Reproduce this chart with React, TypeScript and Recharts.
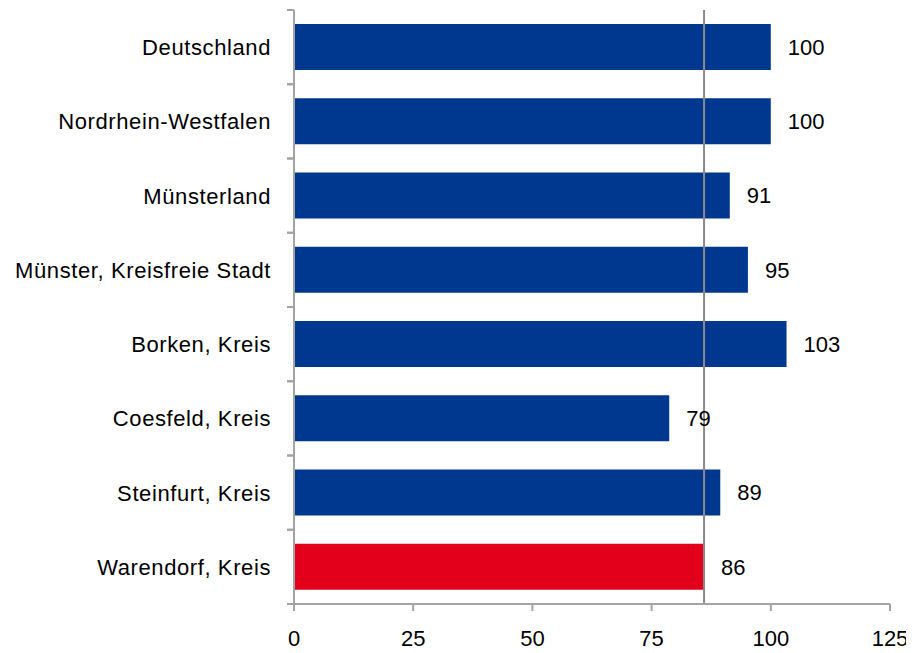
import React from 'react';
import { BarChart, Bar, XAxis, YAxis, Cell, LabelList, ReferenceLine } from 'recharts';

const regions = [
    'Deutschland',
    'Nordrhein-Westfalen',
    'Münsterland',
    'Münster, Kreisfreie Stadt',
    'Borken, Kreis',
    'Coesfeld, Kreis',
    'Steinfurt, Kreis',
    'Warendorf, Kreis',
];
const values = [100, 100, 91.4, 95.2, 103.3, 78.7, 89.4, 86];
const xTicks = [0, 25, 50, 75, 100, 125];
const highlight = 'Warendorf, Kreis';
const referenceValue = 86;

const data = regions.map((name, i) => ({ name, value: values[i] }));

const font = '"Liberation Sans", Arial, sans-serif';
const axisColor = '#a3a3a3';
const bandHalf = 594 / regions.length / 2;

const CategoryTick = (props: any) => {
    const { x, y, payload } = props;
    return (
        <g>
            <line x1={x - 7} x2={x} y1={y - bandHalf} y2={y - bandHalf} stroke={axisColor} strokeWidth={2} />
            <line x1={x - 7} x2={x} y1={y + bandHalf} y2={y + bandHalf} stroke={axisColor} strokeWidth={2} />
            <text x={x - 23} y={y} dy="0.36em" textAnchor="end" fill="#000" fontSize={22} fontFamily={font} letterSpacing={0.6}>
                {payload.value}
            </text>
        </g>
    );
};

const App = () => {
    return (
        <div style={{ width: 906, height: 644 }}>
            <BarChart
                width={906}
                height={644}
                data={data}
                layout="vertical"
                margin={{ top: 2, right: 24, left: 0, bottom: 0 }}
            >
                <XAxis
                    type="number"
                    domain={[0, 125]}
                    ticks={xTicks}
                    height={48}
                    axisLine={{ stroke: axisColor, strokeWidth: 2 }}
                    tickLine={{ stroke: axisColor, strokeWidth: 2 }}
                    tickSize={7}
                    tickMargin={19}
                    tick={{ fill: '#000', fontSize: 22, fontFamily: font }}
                    interval={0}
                />
                <YAxis
                    type="category"
                    dataKey="name"
                    width={286}
                    axisLine={{ stroke: axisColor, strokeWidth: 2 }}
                    tickLine={false}
                    tickSize={0}
                    tickMargin={0}
                    tick={<CategoryTick />}
                    interval={0}
                />
                <Bar dataKey="value" barSize={46} isAnimationActive={false}>
                    {data.map((d) => (
                        <Cell key={d.name} fill={d.name === highlight ? '#e3001b' : '#003890'} />
                    ))}
                    <LabelList
                        dataKey="value"
                        position="right"
                        offset={17}
                        formatter={(v: any) => Math.round(Number(v))}
                        fill="#000"
                        fontSize={22}
                        fontFamily={font}
                    />
                </Bar>
                <ReferenceLine x={referenceValue} stroke="#8a8a8a" strokeWidth={2} />
            </BarChart>
        </div>
    );
};

export default App;
